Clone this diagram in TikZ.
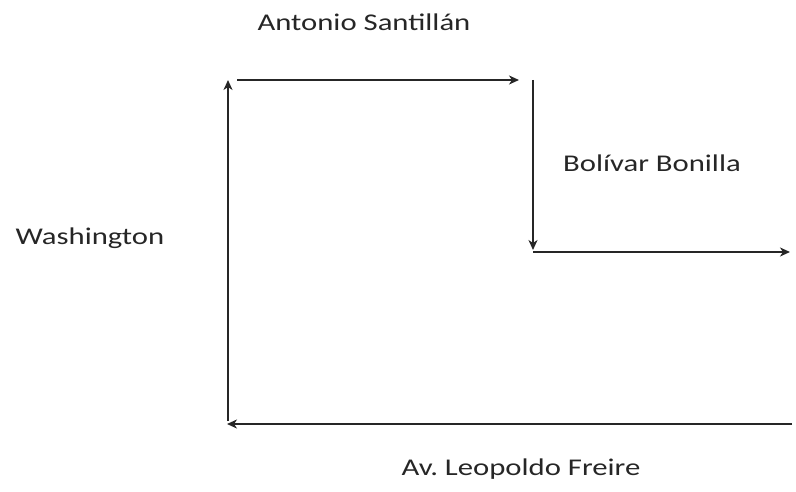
\documentclass[tikz,border=0pt]{standalone}
\usepackage{fontspec}
\setmainfont{Carlito}
\usetikzlibrary{arrows.meta}

\begin{document}
\begin{tikzpicture}[x=1pt,y=-1pt,>={Stealth[length=10pt,width=9pt,inset=3pt]},
  street/.style={->, line width=2.2pt, black!85},
  streetname/.style={font=\fontsize{24}{29}\selectfont, text=black!85}]
  \useasboundingbox (0,0) rectangle (796,492);

  % Corners of the route
  \coordinate (sw) at (228,421);
  \coordinate (nw) at (228,80);
  \coordinate (nwr) at (237,80);
  \coordinate (ne) at (519,80);
  \coordinate (nm) at (533,80);
  \coordinate (mm) at (533,250);
  \coordinate (mr) at (533,252);
  \coordinate (me) at (790,252);
  \coordinate (se) at (792,424);
  \coordinate (sl) at (227,424);

  % Streets
  \draw[street] (sw) -- (nw);
  \draw[street] (nwr) -- (ne);
  \draw[street] (nm) -- (mm);
  \draw[street] (mr) -- (me);
  \draw[street] (se) -- (sl);

  % Names
  \node[streetname] (santillan) at (364,22) {\scalebox{1.28}[1]{Antonio Santillán}};
  \node[streetname] (bonilla) at (652,163) {\scalebox{1.28}[1]{Bolívar Bonilla}};
  \node[streetname] (washington) at (90,238) {\scalebox{1.28}[1]{Washington}};
  \node[streetname] (freire) at (521,469) {\scalebox{1.28}[1]{Av.\ Leopoldo Freire}};
\end{tikzpicture}
\end{document}
